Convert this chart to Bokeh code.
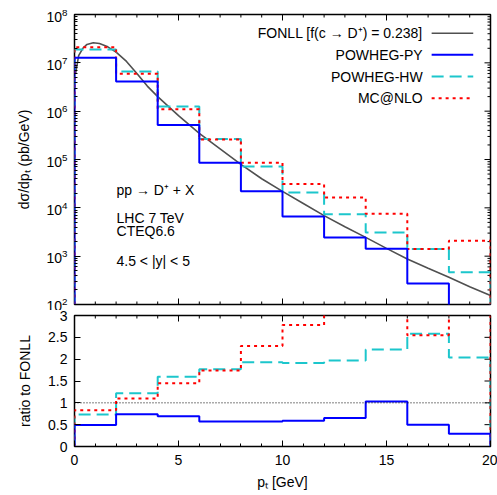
import math
from bokeh.plotting import figure
from bokeh.models import Range1d, Span, Label, FixedTicker, NumeralTickFormatter
from bokeh.layouts import column
from bokeh.embed import file_html
from bokeh.resources import INLINE

# ---------------- data ----------------
bin_edges = [0, 2, 4, 6, 8, 10, 12, 14, 16, 18, 20]

powheg_py = [1.27e7, 4.1e6, 5.2e5, 8.6e4, 2.2e4, 6.6e3, 2.43e3, 1.42e3, 2.72e2, 6.6e1]
powheg_hw = [1.89e7, 6.6e6, 1.25e6, 2.65e5, 7.2e4, 2.07e4, 7.4e3, 3.1e3, 1.4e3, 4.66e2]
mcatnlo = [2.1e7, 5.95e6, 1.1e6, 2.6e5, 8.6e4, 3.1e4, 1.64e4, 7.5e3, 1.4e3, 2.09e3]

ratio_py = [0.49, 0.74, 0.69, 0.57, 0.57, 0.59, 0.65, 1.03, 0.50, 0.29]
ratio_hw = [0.73, 1.22, 1.60, 1.77, 1.93, 1.91, 1.97, 2.22, 2.58, 2.04]
ratio_mc = [0.83, 1.10, 1.45, 1.74, 2.30, 2.78, 4.0, 5.1, 2.55, 8.7]

fonll_pt = [0.05, 0.2, 0.4, 0.6, 0.9, 1.2, 1.6, 2.0, 2.5, 3.0, 3.5, 4, 5, 6, 7, 8, 9, 10,
            11, 12, 13, 14, 15, 16, 17, 18, 19, 20]
fonll_val = [5.9e6, 1.41e7, 2.0e7, 2.4e7, 2.6e7, 2.51e7, 2.14e7, 1.66e7, 1.07e7, 6.0e6,
             3.3e6, 2.0e6, 8.1e5, 3.47e5, 1.66e5, 7.9e4, 4.0e4, 2.19e4, 1.23e4, 6.9e3,
             4.07e3, 2.45e3, 1.45e3, 871, 562, 367, 234, 153]

series_names = ["FONLL [f(c \u2192 D\u207a) = 0.238]", "POWHEG-PY", "POWHEG-HW", "MC@NLO"]
x_ticks = [0, 5, 10, 15, 20]
ratio_ticks = [0, 0.5, 1, 1.5, 2, 2.5, 3]

# ---------------- style ----------------
FONT = "Liberation Sans"
FS = "14px"
C_FONLL = "#505050"
C_PY = "#0000ff"
C_HW = "#1cc6cc"
C_MC = "#ff0000"
DASH_HW = "12 6"
DASH_MC = "3 4"
TICK = 6
MINOR = 3


def steps(edges, vals, floor):
    xs = [edges[0]]
    ys = [floor]
    for i, v in enumerate(vals):
        xs += [edges[i], edges[i + 1]]
        ys += [v, v]
    xs.append(edges[-1])
    ys.append(floor)
    return xs, ys


def style_axis(ax):
    ax.major_tick_in = TICK
    ax.major_tick_out = 0
    ax.minor_tick_in = MINOR
    ax.minor_tick_out = 0
    ax.major_tick_line_color = "black"
    ax.minor_tick_line_color = "black"
    ax.axis_line_color = None
    ax.major_label_text_font = FONT
    ax.major_label_text_font_size = FS
    ax.major_label_text_color = "black"
    ax.major_label_text_line_height = 0.9
    ax.axis_label_text_font = FONT
    ax.axis_label_text_font_size = FS
    ax.axis_label_text_font_style = "normal"
    ax.axis_label_text_color = "black"


def mirror_ticks(p, positions, fixed, angle, length):
    """Inward tick marks on an unlabelled side, drawn as screen-length rays."""
    if angle in (math.pi / 2, -math.pi / 2):
        xs, ys = list(positions), [fixed] * len(positions)
    else:
        xs, ys = [fixed] * len(positions), list(positions)
    p.ray(x=xs, y=ys, length=length, angle=angle, length_units="screen",
          line_color="black", line_width=1)


x_range = Range1d(0, 20)
x_minor = [v for v in range(0, 21) if v not in x_ticks]

# ---------------- top panel ----------------
top_lo, top_hi = 1e2, 1e8
p1 = figure(width=497, height=310, x_range=x_range, y_range=Range1d(top_lo, top_hi),
            y_axis_type="log", output_backend="svg", toolbar_location=None,
            min_border_left=74, min_border_right=7, min_border_top=14, min_border_bottom=6)
p1.grid.visible = False
p1.outline_line_color = "black"
p1.outline_line_width = 1.5

log_major = [10 ** k for k in range(2, 9)]
log_minor = [m * 10 ** k for k in range(2, 8) for m in range(2, 10)]

p1.yaxis.ticker = FixedTicker(ticks=log_major, minor_ticks=log_minor)
style_axis(p1.yaxis[0])
p1.yaxis.axis_label = "d\u03c3/dp\u209c (pb/GeV)"
p1.yaxis.major_label_standoff = 7
p1.yaxis.axis_label_standoff = 11
p1.xaxis.visible = False

mirror_ticks(p1, x_ticks, top_lo, math.pi / 2, TICK)
mirror_ticks(p1, x_minor, top_lo, math.pi / 2, MINOR)
mirror_ticks(p1, x_ticks, top_hi, -math.pi / 2, TICK)
mirror_ticks(p1, x_minor, top_hi, -math.pi / 2, MINOR)
mirror_ticks(p1, log_major, 20, math.pi, TICK)
mirror_ticks(p1, log_minor, 20, math.pi, MINOR)

p1.line(fonll_pt, fonll_val, line_color=C_FONLL, line_width=1.6)
xs, ys = steps(bin_edges, powheg_hw, top_lo)
p1.line(xs, ys, line_color=C_HW, line_width=2, line_dash=DASH_HW)
xs, ys = steps(bin_edges, mcatnlo, top_lo)
p1.line(xs, ys, line_color=C_MC, line_width=2, line_dash=DASH_MC)
xs, ys = steps(bin_edges, powheg_py, top_lo)
p1.line(xs, ys, line_color=C_PY, line_width=2)

# legend (gnuplot style: text right-aligned, sample on the right)
leg_rows = [10 ** 7.613, 10 ** 7.166, 10 ** 6.717, 10 ** 6.268]
leg_text_x = 16.74
leg_line_x = (17.17, 19.17)
leg_styles = [(C_FONLL, 1.6, "solid"), (C_PY, 2, "solid"), (C_HW, 2, DASH_HW), (C_MC, 2, DASH_MC)]
for name, yy, (c, w, d) in zip(series_names, leg_rows, leg_styles):
    p1.add_layout(Label(x=leg_text_x, y=yy, text=name, text_align="right", text_baseline="middle",
                        text_font=FONT, text_font_size=FS, text_color="black"))
    p1.line(list(leg_line_x), [yy, yy], line_color=c, line_width=w, line_dash=d)

notes = [("pp \u2192 D\u207a + X", 10 ** 4.36), ("LHC 7 TeV", 10 ** 3.79),
         ("CTEQ6.6", 10 ** 3.52), ("4.5 < |y| < 5", 10 ** 2.91)]
for t, yy in notes:
    p1.add_layout(Label(x=2.02, y=yy, text=t, text_align="left", text_baseline="middle",
                        text_font=FONT, text_font_size=FS, text_color="black"))

# ---------------- ratio panel ----------------
r_lo, r_hi = 0, 3
p2 = figure(width=497, height=185, x_range=x_range, y_range=Range1d(r_lo, r_hi),
            output_backend="svg", toolbar_location=None,
            min_border_left=74, min_border_right=7, min_border_top=5, min_border_bottom=49)
p2.grid.visible = False
p2.outline_line_color = "black"
p2.outline_line_width = 1.5

p2.yaxis.ticker = FixedTicker(ticks=ratio_ticks, minor_ticks=[])
p2.yaxis.formatter = NumeralTickFormatter(format="0.[0]")
style_axis(p2.yaxis[0])
p2.yaxis.axis_label = "ratio to FONLL"
p2.yaxis.major_label_standoff = 7
p2.yaxis.axis_label_standoff = 12

p2.xaxis.ticker = FixedTicker(ticks=x_ticks, minor_ticks=x_minor)
style_axis(p2.xaxis[0])
p2.xaxis.axis_label = "p\u209c [GeV]"
p2.xaxis.major_label_standoff = 8
p2.xaxis.axis_label_standoff = 6

mirror_ticks(p2, x_ticks, r_hi, -math.pi / 2, TICK)
mirror_ticks(p2, x_minor, r_hi, -math.pi / 2, MINOR)
mirror_ticks(p2, ratio_ticks, 20, math.pi, TICK)

p2.add_layout(Span(location=1, dimension="width", line_color="black", line_width=1, line_dash="1 2"))

xs, ys = steps(bin_edges, ratio_hw, r_lo)
p2.line(xs, ys, line_color=C_HW, line_width=2, line_dash=DASH_HW)
xs, ys = steps(bin_edges, ratio_mc, r_lo)
p2.line(xs, ys, line_color=C_MC, line_width=2, line_dash=DASH_MC)
xs, ys = steps(bin_edges, ratio_py, r_lo)
p2.line(xs, ys, line_color=C_PY, line_width=2)

layout = column(p1, p2, spacing=0)
open("out.html", "w").write(file_html(layout, INLINE))
